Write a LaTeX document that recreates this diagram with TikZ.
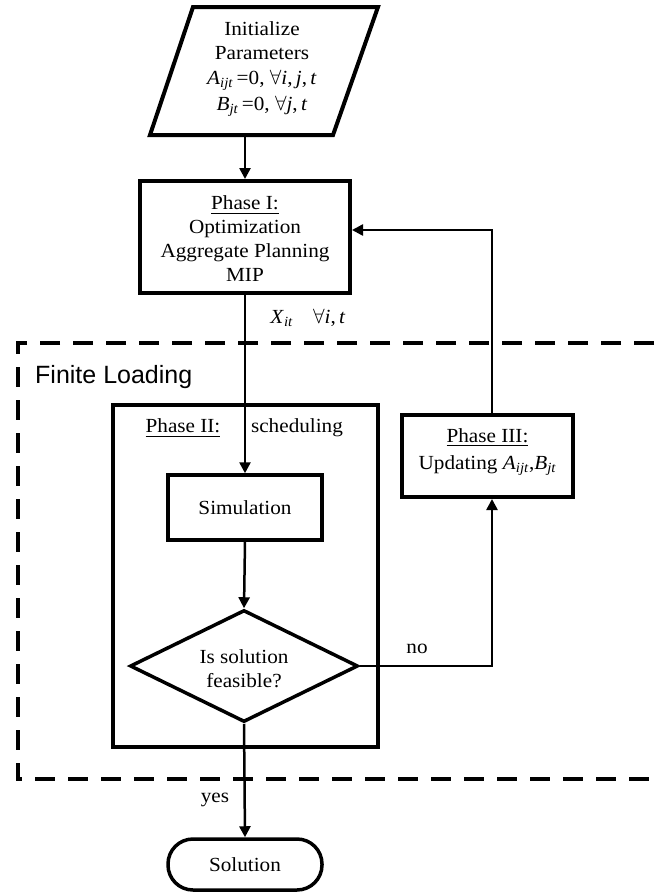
\documentclass[tikz,border=0pt]{standalone}
\usepackage{amsmath}
\usepackage{fontspec}
\setmainfont[FakeStretch=1.06]{Liberation Serif}
\newfontfamily\lsans{Liberation Sans}
\usetikzlibrary{arrows.meta,shapes.geometric}
\begin{document}
\begin{tikzpicture}[x=1pt,y=-1pt,
  every node/.style={font=\fontsize{20}{24}\selectfont, inner sep=0pt, align=center},
  con/.style={line width=2.5pt},
  arr/.style={con, -{Triangle[length=11pt,width=11pt]}}
]
\useasboundingbox (0,0) rectangle (654,895);
% dashed region
\draw[line width=4pt, dash pattern=on 20pt off 13pt] (654,343) -- (18,343) -- (18,779) -- (654,779);
\node[anchor=west, font=\lsans\fontsize{25}{30}\selectfont] (fl) at (35,377) {Finite Loading};

% init parallelogram
\coordinate (i1) at (193,7);
\coordinate (i2) at (378,7);
\coordinate (i3) at (333,135);
\coordinate (i4) at (150,135);
\draw[line width=4pt, line join=miter] (i1) -- (i2) -- (i3) -- (i4) -- cycle;
\node (init) at (262,69) {Initialize\\Parameters\\[1pt]\textit{A}\textsubscript{\textit{ijt}}\,=0, $\forall$\textit{i},\,\textit{j},\,\textit{t}\\[2pt]\textit{B}\textsubscript{\textit{jt}}\,=0, $\forall$\textit{j},\,\textit{t}};

% Phase I
\node[draw, line width=4pt, minimum width=210pt, minimum height=112pt] (p1) at (245,237) {};
\node (p1txt) at (245,239) {\underline{Phase I:}\\Optimization\\Aggregate Planning\\MIP};

% Phase II container
\node[draw, line width=3.5pt, minimum width=265pt, minimum height=342pt] (p2) at (245.5,576) {};
\node (p2lbl) at (183,428) {\underline{Phase II:}};
\node (sched) at (297,428) {scheduling};

% Simulation
\node[draw, line width=3.5pt, minimum width=154pt, minimum height=65pt] (sim) at (245,507.5) {Simulation};

% Decision
\node[draw, line width=3.5pt, shape=diamond, aspect=2.04, minimum width=228pt, minimum height=112pt, inner sep=0pt] (dec) at (244,666) {};
\node (dectxt) at (244,669) {Is solution\\feasible?};

% Phase III
\node[draw, line width=4pt, minimum width=171pt, minimum height=82pt] (p3) at (487.5,456) {};
\node (p3txt) at (487.5,452) {\underline{Phase III:}\\[3pt]Updating \textit{A}\textsubscript{\textit{ijt}},\textit{B}\textsubscript{\textit{jt}}};

% Solution
\node[draw, line width=3.5pt, minimum width=154pt, minimum height=51pt, rounded corners=25pt] (sol) at (245,864.5) {Solution};

% connectors
\coordinate (fb) at (492,230);
\coordinate (nocorner) at (492,666);
\draw[arr] (p1.north |- i4) -- (p1.north);
\draw[arr] (p1.south) -- (sim.north);
\draw[arr] (sim.south) -- (dec.north);
\draw[arr] (dec.south) -- (sol.north);
\draw[arr] (dec.east) -- (nocorner) -- (p3.south -| nocorner);
\draw[arr] (p3.north -| fb) -- (fb) -- (p1.east |- fb);

% labels
\node (xit) at (308,318) {\textit{X}\textsubscript{\textit{it}}\hspace{20pt}$\forall$\textit{i},\,\textit{t}};
\node (no) at (417,649) {no};
\node (yes) at (215,800) {yes};
\end{tikzpicture}
\end{document}
